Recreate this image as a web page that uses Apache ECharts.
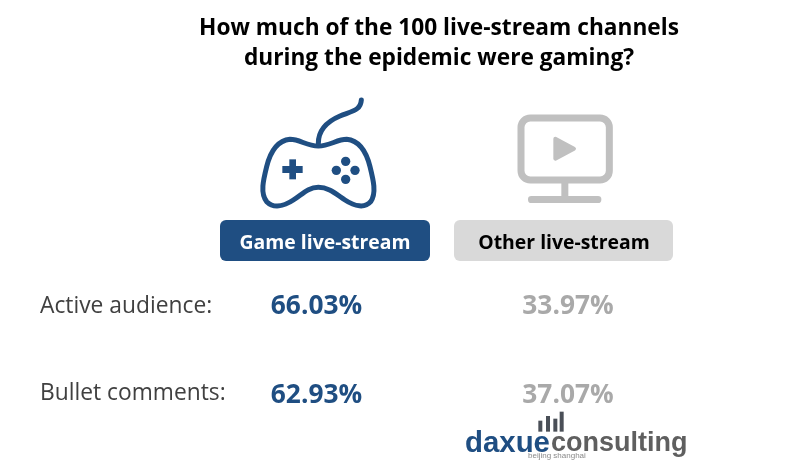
<!DOCTYPE html>
<html>
<head>
<meta charset="utf-8">
<script src="https://cdn.jsdelivr.net/npm/echarts@6/dist/echarts.min.js"></script>
<style>
  html, body { margin: 0; padding: 0; background: #fff; }
  #chart { width: 800px; height: 469px; }
</style>
</head>
<body>
<div id="chart"></div>
<script>
var BLUE = '#1f4e82';
var GREY = '#a9a9a9';
var FONT = '"Open Sans", "Noto Sans", sans-serif';
var LOGO_FONT = '"Liberation Sans", sans-serif';

var columns = [
  { name: 'Game live-stream', x: 220, w: 210, cx: 325, valueX: 316.5, fill: BLUE, color: '#fff', valueColor: BLUE },
  { name: 'Other live-stream', x: 454, w: 219, cx: 564, valueX: 568, fill: '#d9d9d9', color: '#000', valueColor: GREY }
];
var rows = [
  { label: 'Active audience:', y: 307, valueY: 307, values: [66.03, 33.97] },
  { label: 'Bullet comments:', y: 394, valueY: 396, values: [62.93, 37.07] }
];

var padPath = 'M235 168C200 168 180 148 150 148C110 152 90 190 80 230C70 270 60 310 80 335C100 355 130 350 160 330C190 310 205 292 235 292C265 292 285 310 315 330C345 350 375 355 392 335C410 310 400 270 390 230C380 190 360 152 320 148C290 148 270 168 235 168Z';
var cablePath = 'M235 160C235 120 260 95 300 78C340 62 362 60 364 30';

var graphic = [];

// column headers
columns.forEach(function (c) {
  graphic.push({ type: 'rect', shape: { x: c.x, y: 220, width: c.w, height: 41, r: 6 }, style: { fill: c.fill } });
  graphic.push({ type: 'text', x: c.cx, y: 243, style: { text: c.name, fill: c.color, font: '700 19.4px ' + FONT, textAlign: 'center', textVerticalAlign: 'middle' } });
});

// rows
rows.forEach(function (r) {
  graphic.push({ type: 'text', x: 40, y: r.y, style: { text: r.label, fill: '#404040', font: '22.8px ' + FONT, textAlign: 'left', textVerticalAlign: 'middle' } });
  r.values.forEach(function (v, i) {
    graphic.push({ type: 'text', x: columns[i].valueX, y: r.valueY, style: { text: v.toFixed(2) + '%', fill: columns[i].valueColor, font: '700 26.3px ' + FONT, textAlign: 'center', textVerticalAlign: 'middle' } });
  });
});

// logo
[[265, 62], [288, 48], [310, 56], [329, 35]].forEach(function (b) {
  graphic.push({ type: 'rect', shape: { x: 450 + b[0] / 3, y: 400 + b[1] / 3, width: 4, height: (95 - b[1]) / 3 }, style: { fill: '#4a4f57' } });
});
graphic.push({ type: 'text', x: 465, y: 444, style: { text: 'daxue', fill: BLUE, font: '700 29.4px ' + LOGO_FONT, textAlign: 'left', textVerticalAlign: 'middle' } });
graphic.push({ type: 'text', x: 551, y: 444, style: { text: 'consulting', fill: '#5f5f5f', font: '700 27px ' + LOGO_FONT, textAlign: 'left', textVerticalAlign: 'middle' } });
graphic.push({ type: 'text', x: 528, y: 456, style: { text: 'beijing shanghai', fill: '#8a8a8a', font: '8px ' + LOGO_FONT, textAlign: 'left', textVerticalAlign: 'middle' } });

// icons, drawn in the 3x crop coordinates
function renderIcons() {
  var pad = { type: 'group', x: 240, y: 90, scaleX: 1 / 3, scaleY: 1 / 3, children: [
    { type: 'path', shape: { pathData: padPath }, style: { fill: 'none', stroke: BLUE, lineWidth: 15 } },
    { type: 'path', shape: { pathData: cablePath }, style: { fill: 'none', stroke: BLUE, lineWidth: 15, lineCap: 'round' } },
    { type: 'rect', shape: { x: 127, y: 228, width: 61, height: 21 }, style: { fill: BLUE } },
    { type: 'rect', shape: { x: 148, y: 208, width: 20, height: 60 }, style: { fill: BLUE } }
  ]};
  [[317, 214], [289, 241], [345, 241], [317, 268]].forEach(function (p) {
    pad.children.push({ type: 'circle', shape: { cx: p[0], cy: p[1], r: 14 }, style: { fill: BLUE } });
  });
  var monitor = { type: 'group', x: 500, y: 100, scaleX: 1 / 3, scaleY: 1 / 3, children: [
    { type: 'rect', shape: { x: 63, y: 54, width: 265, height: 186, r: 28 }, style: { fill: 'none', stroke: '#c0c0c0', lineWidth: 21 } },
    { type: 'rect', shape: { x: 184, y: 240, width: 21, height: 55 }, style: { fill: '#c0c0c0' } },
    { type: 'rect', shape: { x: 84, y: 288, width: 220, height: 21, r: 10 }, style: { fill: '#c0c0c0' } },
    { type: 'polygon', shape: { points: [[166, 116], [222, 146], [166, 176]] }, style: { fill: '#c0c0c0', stroke: '#c0c0c0', lineWidth: 12, lineJoin: 'round' } }
  ]};
  return { type: 'group', children: [pad, monitor] };
}

var myChart = echarts.init(document.getElementById('chart'));
myChart.setOption({
  animation: false,
  backgroundColor: '#fff',
  title: {
    text: 'How much of the 100 live-stream channels\nduring the epidemic were gaming?',
    left: 434,
    top: 9,
    textAlign: 'center',
    textStyle: { fontFamily: FONT, fontSize: 22.7, fontWeight: 700, color: '#000', lineHeight: 30 }
  },
  graphic: graphic,
  series: [{ type: 'custom', coordinateSystem: 'none', silent: true, data: [0], renderItem: renderIcons }]
});
</script>
</body>
</html>
